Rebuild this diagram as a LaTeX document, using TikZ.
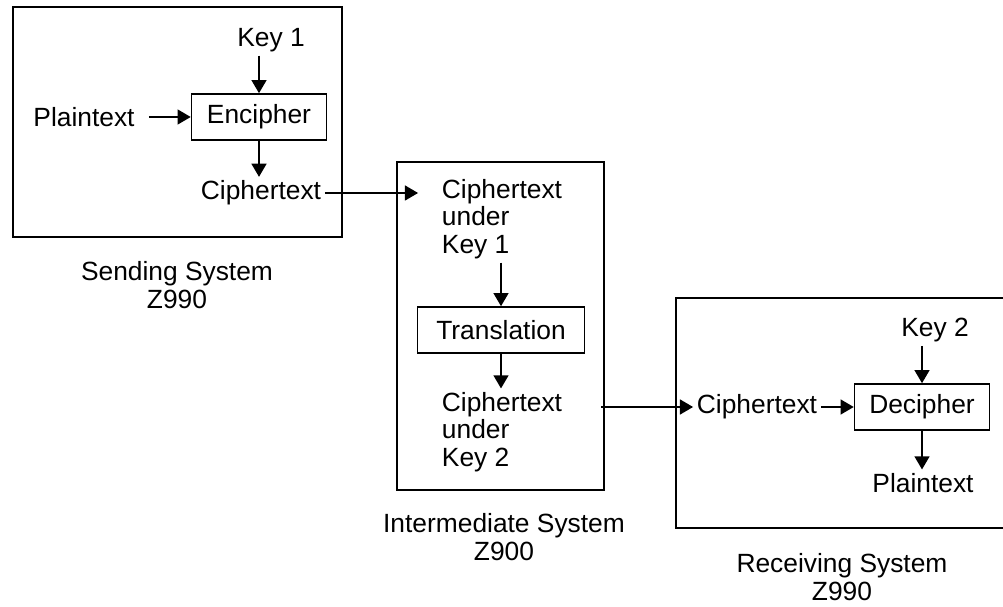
\documentclass[tikz,border=0pt]{standalone}
\usepackage{fontspec}
\setmainfont{Liberation Sans}
\usetikzlibrary{arrows.meta, positioning, calc}

\tikzset{
  txt/.style={inner sep=2pt, font=\fontsize{15}{15.6}\selectfont},
  bloc/.style={txt, draw, line width=0.9pt, minimum height=0.92cm},
  fl/.style={line width=1pt, -{Triangle[length=7.5pt,width=8.5pt]}},
  cadre/.style={line width=1.1pt}
}

\begin{document}
\begin{tikzpicture}[x=0.02cm, y=-0.02cm]
        \useasboundingbox (0,0) rectangle (1003,607);

        % Cadres des trois systemes
        \draw[cadre] (13,7) rectangle (342,237);
        \draw[cadre] (397,162) rectangle (604,490);
        \draw[cadre] (676,298) rectangle (1012,528);

        % Systeme emetteur
        \node[txt] (keyA) at (271,40) {Key 1};
        \node[bloc, minimum width=2.7cm] (enc) at (259,117) {Encipher};
        \node[txt] (plainA) at (84,117) {Plaintext};
        \node[txt] (cipherA) at (261,193) {Ciphertext};
        \draw[fl] (keyA.south -| enc.north) -- (enc.north);
        \draw[fl, shorten <=6pt] (plainA) -- (enc);
        \draw[fl] (enc.south) -- (enc.south |- cipherA.north);
        \node[txt, align=center] (lblA) at (177,285) {Sending System\\Z990};

        % Systeme intermediaire
        \node[txt, align=left] (ctA) at (502,219) {Ciphertext\\under\\Key 1};
        \node[bloc, minimum width=3.34cm] (trans) at (501,330) {Translation};
        \node[txt, align=left] (ctB) at (502,432) {Ciphertext\\under\\Key 2};
        \draw[fl] (cipherA) -- ($(cipherA -| ctA.west)+(-20,0)$);
        \draw[fl] (ctA.south -| trans.north) -- (trans.north);
        \draw[fl] (trans.south) -- (trans.south |- ctB.north);
        \node[txt, align=center] (lblB) at (504,537) {Intermediate System\\Z900};

        % Systeme recepteur
        \node[txt] (cipherB) at (757,407) {Ciphertext};
        \node[bloc, minimum width=2.7cm] (dec) at (922,407) {Decipher};
        \node[txt] (keyB) at (935,330) {Key 2};
        \node[txt] (plainB) at (923,483) {Plaintext};
        \draw[fl, shorten <=20pt] (ctB.east |- cipherB) -- (cipherB);
        \draw[fl] (cipherB) -- (dec);
        \draw[fl] (keyB.south -| dec.north) -- (dec.north);
        \draw[fl] (dec.south) -- (dec.south |- plainB.north);
        \node[txt, align=center] (lblC) at (842,577) {Receiving System\\Z990};
    \end{tikzpicture}
\end{document}
